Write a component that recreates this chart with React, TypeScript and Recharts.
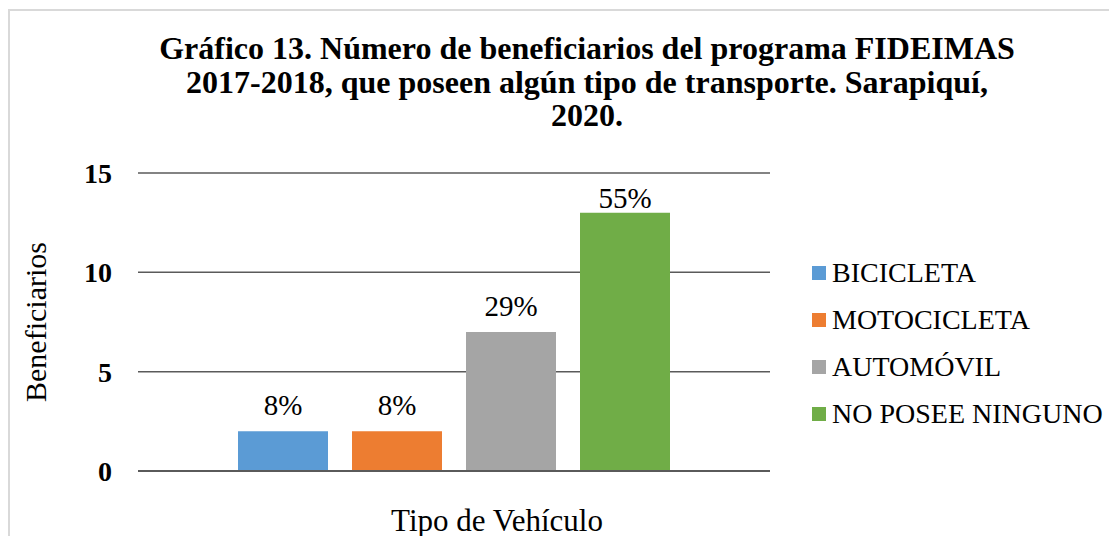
import React from 'react';
import { BarChart, Bar, XAxis, YAxis, CartesianGrid, Legend, LabelList, Customized } from 'recharts';

const categories = ['Tipo de Vehículo'];
const seriesNames = ['BICICLETA', 'MOTOCICLETA', 'AUTOMÓVIL', 'NO POSEE NINGUNO'];
const seriesValues = [2, 2, 7, 13];
const seriesLabels = ['8%', '8%', '29%', '55%'];
const seriesColors = ['#5b9bd5', '#ed7d31', '#a5a5a5', '#70ad47'];
const yTicks = [0, 5, 10, 15];
const titleLines = [
  'Gráfico 13. Número de beneficiarios del programa FIDEIMAS',
  '2017-2018, que poseen algún tipo de transporte. Sarapiquí,',
  '2020.',
];

const data = categories.map((c) => {
  const row: Record<string, any> = { name: c };
  seriesNames.forEach((s, i) => {
    row[s] = seriesValues[i];
  });
  return row;
});

const FONT = '"Liberation Serif", "Times New Roman", serif';
const PLOT_TOP = 162;

const Title = () => (
  <g>
    {titleLines.map((t, i) => (
      <text
        key={i}
        x={577}
        y={48 + i * 33.5}
        textAnchor="middle"
        fontFamily={FONT}
        fontWeight="bold"
        fontSize={32}
        fill="#000"
      >
        {t}
      </text>
    ))}
  </g>
);

const LegendContent = () => (
  <div style={{ fontFamily: FONT, fontSize: 28, color: '#000', lineHeight: 1 }}>
    {seriesNames.map((s, i) => (
      <div key={s} style={{ display: 'flex', alignItems: 'center', height: 47 }}>
        <span
          style={{
            display: 'inline-block',
            width: 14,
            height: 14,
            background: seriesColors[i],
            marginRight: 6,
            flexShrink: 0,
          }}
        />
        <span style={{ whiteSpace: 'nowrap' }}>{s}</span>
      </div>
    ))}
  </div>
);

const makeLabel = (text: string) => (props: any) => {
  const { x, y, width } = props;
  const baseline = Math.max(Number(y) - 16, PLOT_TOP + 35);
  return (
    <text
      x={Number(x) + Number(width) / 2}
      y={baseline}
      textAnchor="middle"
      fontFamily={FONT}
      fontSize={29}
      fill="#000"
    >
      {text}
    </text>
  );
};

export default function App() {
  return (
    <div
      style={{
        position: 'relative',
        top: 1,
        width: 1107,
        height: 526,
        borderLeft: '2px solid #d9d9d9',
        borderTop: '2px solid #d9d9d9',
        background: '#fff',
      }}
    >
      <BarChart
        width={1107}
        height={526}
        data={data}
        margin={{ top: PLOT_TOP, right: 47, bottom: 0, left: 0 }}
        barSize={90}
        barGap={24}
      >
        <CartesianGrid vertical={false} stroke="#5a5a5a" strokeWidth={1.5} />
        <XAxis
          dataKey="name"
          tick={false}
          tickLine={false}
          axisLine={{ stroke: '#5a5a5a', strokeWidth: 2 }}
          height={66}
          label={{
            content: (props: any) => {
              const vb = props.viewBox;
              return (
                <text
                  x={vb.x + vb.width / 2 + 43}
                  y={vb.y + 60}
                  textAnchor="middle"
                  fontFamily={FONT}
                  fontSize={31}
                  fill="#000"
                >
                  Tipo de Vehículo
                </text>
              );
            },
          }}
        />
        <YAxis
          domain={[0, 15]}
          ticks={yTicks}
          width={128}
          axisLine={false}
          tickLine={false}
          tickSize={0}
          tickMargin={26}
          tick={{ fontFamily: FONT, fontSize: 28, fontWeight: 'bold', fill: '#000' }}
          label={{
            content: (props: any) => {
              const vb = props.viewBox;
              const cx = 25;
              const cy = vb.y + vb.height / 2;
              return (
                <text
                  x={cx}
                  y={cy}
                  transform={`rotate(-90, ${cx}, ${cy})`}
                  textAnchor="middle"
                  dominantBaseline="central"
                  fontFamily={FONT}
                  fontSize={30}
                  fill="#000"
                >
                  Beneficiarios
                </text>
              );
            },
          }}
        />
        <Legend
          layout="vertical"
          align="right"
          verticalAlign="top"
          wrapperStyle={{ top: 238, left: 802, width: 300 }}
          content={<LegendContent />}
        />
        {seriesNames.map((s, i) => (
          <Bar key={s} dataKey={s} fill={seriesColors[i]} isAnimationActive={false}>
            <LabelList dataKey={s} content={makeLabel(seriesLabels[i])} />
          </Bar>
        ))}
        <Customized component={<Title />} />
      </BarChart>
    </div>
  );
}
